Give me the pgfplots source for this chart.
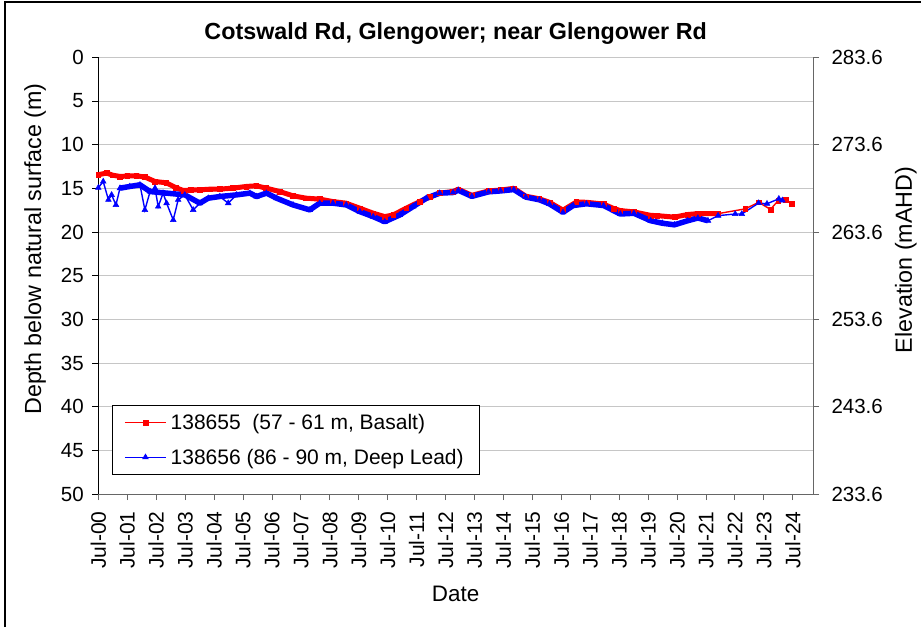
\documentclass[border=0pt]{standalone}
\usepackage{pgfplots}
\pgfplotsset{compat=1.18}
\usepackage{fontspec}
\setmainfont{Liberation Sans}
\begin{document}
\begin{tikzpicture}[x=1pt,y=1pt]
\useasboundingbox (0,0) rectangle (921,627);
\fill[white] (0,0) rectangle (921,627);
\draw[black, line width=1.2pt] (5,0) -- (5,625) -- (921,625);
\begin{axis}[
  at={(98.3pt,133pt)}, anchor=south west,
  scale only axis, width=714.7pt, height=436.7pt,
  xmin=0, xmax=24.7, ymin=0, ymax=50, y dir=reverse,
  axis x line*=bottom, axis y line*=left,
  x axis line style={draw=gray!80!black, line width=0.9pt},
  y axis line style={draw=black, line width=0.9pt},
  xtick={0,...,24},
  xticklabels={Jul-00,Jul-01,Jul-02,Jul-03,Jul-04,Jul-05,Jul-06,Jul-07,Jul-08,Jul-09,Jul-10,Jul-11,Jul-12,Jul-13,Jul-14,Jul-15,Jul-16,Jul-17,Jul-18,Jul-19,Jul-20,Jul-21,Jul-22,Jul-23,Jul-24},
  xticklabel style={rotate=90, anchor=east, font=\fontsize{21}{23}\selectfont},
  xticklabel shift=8pt,
  ytick={0,5,...,50},
  yticklabel style={font=\fontsize{20.5}{23}\selectfont},
  yticklabel shift=5pt,
  /pgf/number format/assume math mode=true,
  tick align=outside, major tick length=6pt,
  x tick style={draw=gray!80!black, line width=0.8pt},
  y tick style={draw=black, line width=0.8pt},
  ymajorgrids, grid style={draw=gray!45, line width=0.8pt},
  xlabel={Date}, xlabel style={font=\fontsize{22.4}{24}\selectfont, at={(axis description cs:0.5,0)}, anchor=center, yshift=-100pt},
  ylabel={Depth below natural surface (m)}, ylabel style={font=\fontsize{23.3}{25}\selectfont, at={(axis description cs:-0.0885,0.561)}, anchor=center},
  title={\bfseries Cotswald Rd, Glengower; near Glengower Rd},
  title style={font=\fontsize{23.3}{25}\selectfont, yshift=3pt},
  legend style={at={(0.019,0.0435)}, anchor=south west, draw=black, line width=0.8pt,
    font=\fontsize{21}{23}\selectfont, row sep=14pt, inner xsep=12pt, inner ysep=7pt,
    nodes={inner xsep=4pt}},
  legend cell align=left,
  legend image code/.code={\draw[#1] (0cm,0cm) -- (0.72cm,0cm) -- (1.44cm,0cm); \draw[#1,only marks] plot coordinates {(0.72cm,0cm)};},
]
% red band
\addplot[red, line width=5pt, forget plot, line join=round] coordinates {
(0,13.45)(0.28,13.25)(0.5,13.5)(0.75,13.64)(1.0,13.6)(1.31,13.56)(1.61,13.71)(1.96,14.22)(2.35,14.37)(2.69,14.94)
(2.94,15.25)(3.2,15.2)(3.51,15.17)(3.85,15.1)(4.20,15.09)(4.66,14.98)(5.11,14.79)(5.46,14.71)(5.80,14.98)(6.27,15.37)
(6.73,15.86)(7.18,16.13)(7.66,16.24)(8.11,16.52)(8.56,16.70)(9.04,17.28)(9.50,17.85)(9.90,18.24)(10.19,18.05)(10.64,17.28)
(11.11,16.52)(11.45,16.01)(11.80,15.55)(12.26,15.37)(12.44,15.1)(12.91,15.8)(13.49,15.3)(13.9,15.2)(14.36,15.0)(14.77,15.9)
(15.24,16.2)(15.59,16.6)(16.06,17.5)(16.52,16.57)(16.87,16.6)(17.46,16.8)(17.8,17.3)(18.04,17.55)(18.51,17.7)(19.09,18.1)
(19.32,18.13)(19.91,18.3)(20.37,18.0)(20.72,17.9)(21.42,17.9)
};
\addplot[red, line width=1.4pt, mark=square*, mark size=2.4pt, mark options={line width=0.5pt}] coordinates {
(0,13.45)(0.28,13.25)(0.5,13.5)(0.75,13.64)(1.0,13.6)(1.31,13.56)(1.61,13.71)(1.96,14.22)(2.35,14.37)(2.69,14.94)
(2.94,15.25)(3.2,15.2)(3.51,15.17)(3.85,15.1)(4.20,15.09)(4.66,14.98)(5.11,14.79)(5.46,14.71)(5.80,14.98)(6.27,15.37)
(6.73,15.86)(7.18,16.13)(7.66,16.24)(8.11,16.52)(8.56,16.70)(9.04,17.28)(9.50,17.85)(9.90,18.24)(10.19,18.05)(10.64,17.28)
(11.11,16.52)(11.45,16.01)(11.80,15.55)(12.26,15.37)(12.44,15.1)(12.91,15.8)(13.49,15.3)(13.9,15.2)(14.36,15.0)(14.77,15.9)
(15.24,16.2)(15.59,16.6)(16.06,17.5)(16.52,16.57)(16.87,16.6)(17.46,16.8)(17.8,17.3)(18.04,17.55)(18.51,17.7)(19.09,18.1)
(19.32,18.13)(19.91,18.3)(20.37,18.0)(20.72,17.9)(21.42,17.9)(22.36,17.35)(22.82,16.6)(23.23,17.41)(23.5,16.4)(23.76,16.32)(23.96,16.78)
};
\addlegendentry{138655\ \ (57 - 61 m, Basalt)}
% blue band
\addplot[blue, line width=5.5pt, forget plot, line join=round] coordinates {
(0.75,14.98)(1.09,14.79)(1.44,14.6)(1.79,15.37)
(2.99,15.75)(3.51,16.70)(3.80,16.13)
(4.20,15.94)(4.78,15.75)(5.24,15.55)(5.47,15.94)(5.81,15.55)(6.16,16.13)(6.73,16.90)(7.31,17.47)(7.65,16.70)
(8.11,16.70)(8.57,16.90)(9.04,17.67)(9.50,18.24)(9.90,18.82)(10.42,18.05)(10.88,17.09)(11.34,16.13)(11.80,15.55)(12.26,15.48)
(12.44,15.22)(12.91,15.92)(13.49,15.40)(13.9,15.3)(14.36,15.14)(14.77,16.00)(15.24,16.31)(15.59,16.78)(16.06,17.75)(16.41,16.97)
(16.87,16.77)(17.46,16.97)(18.04,17.94)(18.51,17.86)(19.09,18.71)(19.5,19.0)(19.91,19.18)(20.37,18.71)(20.72,18.40)(21.07,18.71)
};
\addplot[blue, line width=1.4pt, mark=triangle*, mark size=3.3pt, mark options={line width=0.5pt}] coordinates {
(0,14.94)(0.17,14.22)(0.35,16.32)(0.46,15.75)(0.61,16.9)(0.75,14.98)(1.09,14.79)(1.44,14.6)(1.61,17.47)(1.79,15.37)
(1.96,14.98)(2.07,17.09)(2.24,15.55)(2.36,16.70)(2.59,18.62)(2.76,16.32)(2.99,15.75)(3.28,17.47)(3.51,16.70)(3.80,16.13)
(4.20,15.94)(4.49,16.70)(4.78,15.75)(5.24,15.55)(5.47,15.94)(5.81,15.55)(6.16,16.13)(6.73,16.90)(7.31,17.47)(7.65,16.70)
(8.11,16.70)(8.57,16.90)(9.04,17.67)(9.50,18.24)(9.90,18.82)(10.42,18.05)(10.88,17.09)(11.34,16.13)(11.80,15.55)(12.26,15.48)
(12.44,15.22)(12.91,15.92)(13.49,15.40)(13.9,15.3)(14.36,15.14)(14.77,16.00)(15.24,16.31)(15.59,16.78)(16.06,17.75)(16.41,16.97)
(16.87,16.77)(17.46,16.97)(18.04,17.94)(18.51,17.86)(19.09,18.71)(19.5,19.0)(19.91,19.18)(20.37,18.71)(20.72,18.40)(21.07,18.71)
(21.42,18.13)(22.01,17.94)(22.24,17.94)(22.82,16.69)(23.11,16.77)(23.52,16.20)(23.64,16.38)
};
\addlegendentry{138656 (86 - 90 m, Deep Lead)}
\end{axis}
\begin{axis}[
  at={(98.3pt,133pt)}, anchor=south west,
  scale only axis, width=714.7pt, height=436.7pt,
  xmin=0, xmax=24.7, ymin=233.6, ymax=283.6,
  axis x line=none, axis y line*=right,
  y axis line style={draw=gray!80!black, line width=0.9pt},
  ytick={233.6,243.6,253.6,263.6,273.6,283.6},
  yticklabel style={font=\fontsize{20.5}{23}\selectfont, /pgf/number format/.cd, fixed, fixed zerofill, precision=1},
  yticklabel shift=9pt,
  /pgf/number format/assume math mode=true,
  tick align=outside, major tick length=6pt,
  y tick style={draw=gray!80!black, line width=0.8pt},
  ylabel={Elevation (mAHD)}, ylabel style={font=\fontsize{23.3}{25}\selectfont, at={(axis description cs:1.130,0.536)}, anchor=center},
]
\addplot[draw=none] coordinates {(0,250)};
\end{axis}
\end{tikzpicture}
\end{document}
